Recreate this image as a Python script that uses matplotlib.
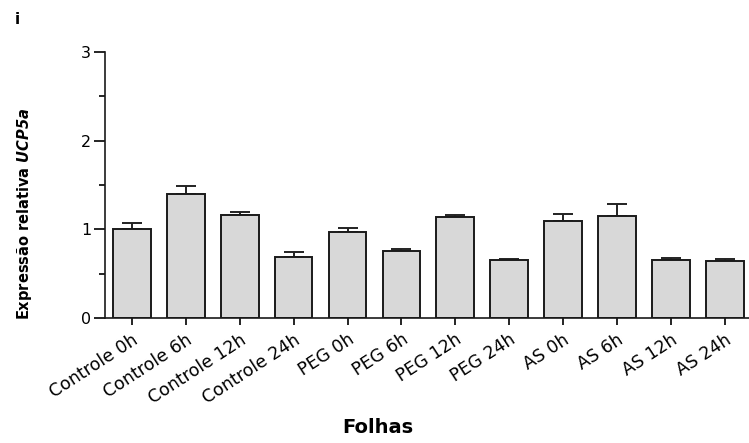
import matplotlib
matplotlib.use("Agg")
import matplotlib.pyplot as plt
import numpy as np

plt.rcParams['font.family'] = ['DejaVu Sans']

# Relative expression of UCP5a in leaves
labels = ["Controle 0h", "Controle 6h", "Controle 12h", "Controle 24h",
          "PEG 0h", "PEG 6h", "PEG 12h", "PEG 24h",
          "AS 0h", "AS 6h", "AS 12h", "AS 24h"]
means = [1.00, 1.40, 1.16, 0.69, 0.97, 0.755, 1.14, 0.65, 1.09, 1.15, 0.66, 0.64]
errs = [0.07, 0.09, 0.04, 0.05, 0.04, 0.025, 0.02, 0.015, 0.08, 0.14, 0.015, 0.03]

fig = plt.figure(figsize=(7.49, 4.43), dpi=100)
ax = fig.add_axes([0.1402, 0.282, 0.8598, 0.601])

x = np.arange(len(labels))
ax.bar(x, means, width=0.70, color="#d8d8d8", edgecolor="#1a1a1a", linewidth=1.4, zorder=2)
ax.errorbar(x, means, yerr=[np.zeros(len(errs)), errs], fmt="none",
            ecolor="#222222", elinewidth=1.4, capsize=7.2, capthick=1.4, zorder=1)

ax.set_xlim(-0.5, 11.45)
ax.set_ylim(0, 3)
ax.spines['top'].set_visible(False)
ax.spines['right'].set_visible(False)
for s in ('left', 'bottom'):
    ax.spines[s].set_linewidth(1.2)
    ax.spines[s].set_color("#1a1a1a")

ax.set_yticks([0, 1, 2, 3])
ax.set_yticks([0.5, 1.5, 2.5], minor=True)
ax.tick_params(axis='y', which='major', length=8, width=1.2, labelsize=11.5, pad=2)
ax.tick_params(axis='y', which='minor', length=4.5, width=1.2)
ax.set_xticks(x)
ax.set_xticklabels(labels, rotation=33, ha='right', va='top',
                   rotation_mode='anchor', fontsize=12.5)
ax.tick_params(axis='x', length=5, width=1.2, pad=4)

fig.text(0.033, 0.517, "Expressão relativa $\\mathbfit{UCP5a}$", rotation=90,
         ha='center', va='center', fontsize=10.5, fontweight='bold')
fig.text(0.505, 0.023, "Folhas", ha='center', va='baseline',
         fontsize=14, fontweight='bold')
fig.text(0.02, 0.945, "i", fontsize=11, fontweight='bold')

fig.savefig("out.png", dpi=100)
